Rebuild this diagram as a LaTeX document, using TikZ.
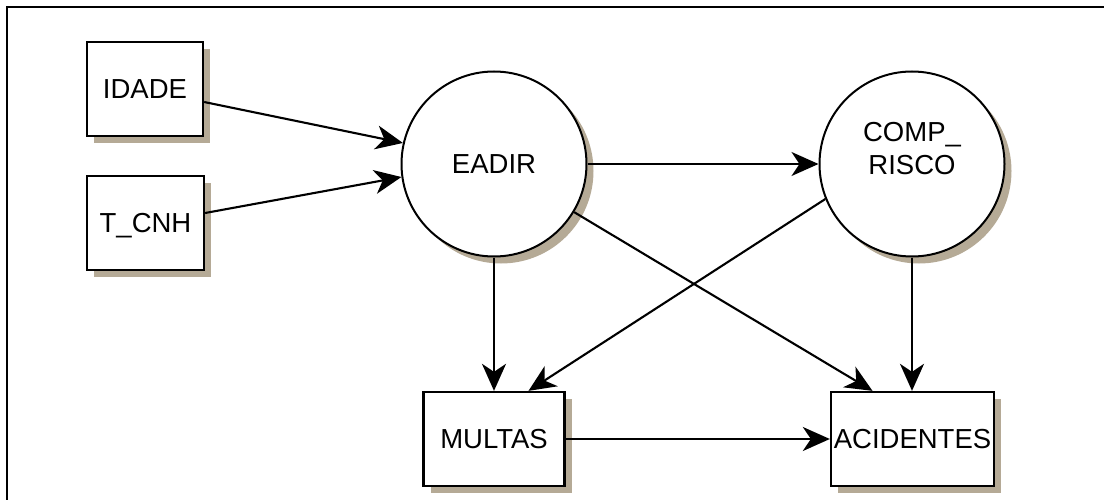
\documentclass[tikz,border=0pt]{standalone}
\usepackage{fontspec}
\setmainfont{Liberation Sans}
\usetikzlibrary{arrows.meta,shadows,calc}
\definecolor{shade}{RGB}{181,170,150}
\begin{document}
\begin{tikzpicture}[x=1pt,y=-1pt,
  every node/.style={font=\fontsize{27.5}{33}\selectfont},
  var/.style={draw, line width=2.3pt, fill=white, inner sep=0pt,
    drop shadow={shadow xshift=7pt, shadow yshift=-7pt, fill=shade, opacity=1}},
  obs/.style={var, rectangle, minimum height=94pt, text depth=0pt},
  lat/.style={var, circle, line width=2pt, minimum size=185pt},
  link/.style={line width=2.1pt, -{Stealth[length=27pt,width=24pt,inset=8pt]}}]
  \useasboundingbox (0,0) rectangle (1104,500);
  % outer frame
  \draw[line width=2.3pt] (1115,7) -- (7,7) -- (7,515);

  % observed variables
  \node[obs, minimum width=116pt] (idade) at (145,89) {IDADE};
  \node[obs, minimum width=117pt] (tcnh) at (145.5,223) {T\_CNH};
  \node[obs, minimum width=141pt] (multas) at (494,439) {MULTAS};
  \node[obs, minimum width=163pt] (acid) at (912.5,439) {ACIDENTES};

  % latent variables
  \node[lat] (eadir) at (494,164) {EADIR};
  \node[lat] (comp) at (912,164) {};
  \node[align=center] (comptxt) at (912,148.5) {COMP\_\\RISCO};

  % paths
  \draw[link] ($(idade.east)+(0,13)$) -- (eadir.167);
  \draw[link] ($(tcnh.east)+(0,-10)$) -- (eadir.188.7);
  \draw[link] (eadir.east) -- (comp.west);
  \draw[link] (eadir.south) -- (eadir.south |- multas.north);
  \draw[link] (eadir.-31) -- ($(acid.north)+(-40,0)$);
  \draw[link] (comp.202.9) -- ($(multas.north)+(34.5,0)$);
  \draw[link] (comp.south) -- (comp.south |- acid.north);
  \draw[link] (multas.east) -- (acid.west);
\end{tikzpicture}
\end{document}
